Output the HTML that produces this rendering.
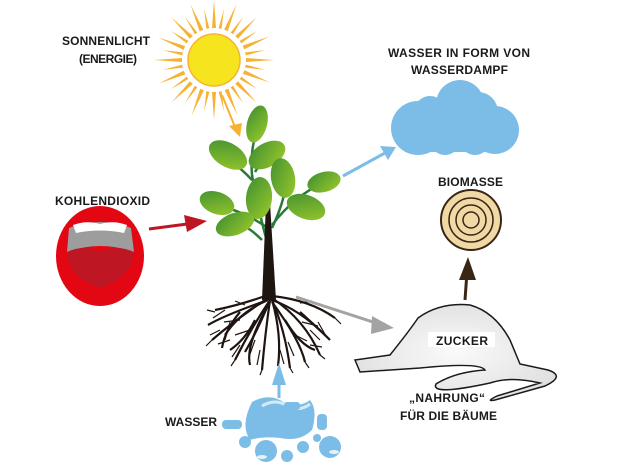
<!DOCTYPE html>
<html><head><meta charset="utf-8"><style>
html,body{margin:0;padding:0;background:#fff;}
svg{display:block}
text{font-family:"Liberation Sans",sans-serif;font-size:12px;fill:#1a1a1a;}
</style></head><body>
<svg width="618" height="470" viewBox="0 0 618 470" xmlns="http://www.w3.org/2000/svg">
<defs>
<linearGradient id="lf" x1="0" y1="0" x2="1" y2="1"><stop offset="0" stop-color="#3f8f32"/><stop offset="1" stop-color="#9cc92a"/></linearGradient>
<radialGradient id="sug" cx="0.5" cy="0.5" r="0.6"><stop offset="0" stop-color="#fafafa"/><stop offset="1" stop-color="#dedede"/></radialGradient>
<polygon id="rl" points="212,28 216,28 214,0" fill="#f7b233"/>
<polygon id="rs" points="212.5,28 215.5,28 214,8" fill="#f7b233"/>
</defs>
<!-- sun rays -->
<g>
<use href="#rl" transform="rotate(0 214 60)"/><use href="#rs" transform="rotate(11 214 60)"/>
<use href="#rl" transform="rotate(22 214 60)"/><use href="#rs" transform="rotate(34 214 60)"/>
<use href="#rl" transform="rotate(45 214 60)"/><use href="#rs" transform="rotate(56 214 60)"/>
<use href="#rl" transform="rotate(67 214 60)"/><use href="#rs" transform="rotate(79 214 60)"/>
<use href="#rl" transform="rotate(90 214 60)"/><use href="#rs" transform="rotate(101 214 60)"/>
<use href="#rl" transform="rotate(112 214 60)"/><use href="#rs" transform="rotate(124 214 60)"/>
<use href="#rl" transform="rotate(135 214 60)"/><use href="#rs" transform="rotate(146 214 60)"/>
<use href="#rl" transform="rotate(157 214 60)"/><use href="#rs" transform="rotate(169 214 60)"/>
<use href="#rl" transform="rotate(180 214 60)"/><use href="#rs" transform="rotate(191 214 60)"/>
<use href="#rl" transform="rotate(202 214 60)"/><use href="#rs" transform="rotate(214 214 60)"/>
<use href="#rl" transform="rotate(225 214 60)"/><use href="#rs" transform="rotate(236 214 60)"/>
<use href="#rl" transform="rotate(247 214 60)"/><use href="#rs" transform="rotate(259 214 60)"/>
<use href="#rl" transform="rotate(270 214 60)"/><use href="#rs" transform="rotate(281 214 60)"/>
<use href="#rl" transform="rotate(292 214 60)"/><use href="#rs" transform="rotate(304 214 60)"/>
<use href="#rl" transform="rotate(315 214 60)"/><use href="#rs" transform="rotate(326 214 60)"/>
<use href="#rl" transform="rotate(337 214 60)"/><use href="#rs" transform="rotate(349 214 60)"/>
</g>
<circle cx="214" cy="60" r="26" fill="#f6e51e" stroke="#f7b233" stroke-width="1.5"/>
<!-- sun arrow -->
<line x1="222" y1="95" x2="235" y2="127" stroke="#f7b233" stroke-width="2"/>
<polygon points="229,126 240,137 242,123" fill="#f7b233"/>
<text x="62" y="45" textLength="88" font-weight="bold">SONNENLICHT</text>
<text x="79" y="63" textLength="58" font-weight="bold">(ENERGIE)</text>

<!-- cloud -->
<g fill="#7cbde8">
<circle cx="460" cy="104" r="24"/>
<circle cx="430" cy="112" r="16"/>
<circle cx="418" cy="128" r="27"/>
<circle cx="495" cy="130" r="24"/>
<circle cx="478" cy="112" r="20"/>
<rect x="418" y="120" width="80" height="32"/>
<circle cx="445" cy="140" r="15"/>
<circle cx="475" cy="140" r="15"/>
</g>
<text x="388" y="57" textLength="142" font-weight="bold">WASSER IN FORM VON</text>
<text x="411" y="74" textLength="97" font-weight="bold">WASSERDAMPF</text>
<line x1="343" y1="176" x2="385" y2="153" stroke="#7cbde8" stroke-width="3"/>
<polygon points="380,146 396,147 388,160" fill="#7cbde8"/>

<!-- mouth -->
<ellipse cx="100" cy="256" rx="44" ry="50" fill="#e30613"/>
<path d="M69,228 Q100,216 131,228 L134,252 Q100,240 67,252 Z" fill="#9d9d9d"/>
<path d="M73,225 Q86,220 100,224 Q114,220 127,225 L124,233 Q100,228 76,233 Z" fill="#fff"/>
<path d="M67,252 Q84,244 100,252 Q116,244 134,252 Q132,278 100,288 Q68,278 67,252 Z" fill="#be1622"/>
<text x="55" y="205" textLength="95" font-weight="bold">KOHLENDIOXID</text>
<line x1="149" y1="229" x2="195" y2="223" stroke="#be1622" stroke-width="3"/>
<polygon points="184,215 207,221 187,232" fill="#be1622"/>

<!-- plant stems -->
<g stroke="#2a7a3a" stroke-width="2.5" fill="none">
<path d="M268,245 Q258,210 252,175 Q250,150 257,130"/>
<path d="M252,180 Q238,165 225,158"/>
<path d="M255,172 Q262,160 272,152"/>
<path d="M268,228 Q242,210 215,205"/>
<path d="M262,240 Q250,228 240,224"/>
<path d="M272,228 Q285,200 285,185"/>
<path d="M272,225 Q295,195 325,182"/>
</g>
<polygon points="266,203 270,203 276,300 262,300" fill="#1f1510"/>
<g fill="url(#lf)">
<ellipse cx="257" cy="124" rx="10" ry="19" transform="rotate(15 257 124)"/>
<ellipse cx="228" cy="155" rx="21" ry="12" transform="rotate(30 228 155)"/>
<ellipse cx="267" cy="155" rx="20" ry="12" transform="rotate(-30 267 155)"/>
<ellipse cx="283" cy="178" rx="12" ry="20" transform="rotate(-10 283 178)"/>
<ellipse cx="259" cy="198" rx="13" ry="21" transform="rotate(5 259 198)"/>
<ellipse cx="217" cy="203" rx="18" ry="11" transform="rotate(20 217 203)"/>
<ellipse cx="235" cy="224" rx="20" ry="11" transform="rotate(-20 235 224)"/>
<ellipse cx="324" cy="182" rx="17" ry="10" transform="rotate(-15 324 182)"/>
<ellipse cx="306" cy="207" rx="20" ry="12" transform="rotate(20 306 207)"/>
</g>

<!-- roots -->
<g stroke="#1f1510" stroke-width="2.2" fill="none">
<path d="M268,295 Q240,305 215,310"/><path d="M268,298 Q235,320 212,340"/>
<path d="M270,300 Q250,330 235,360"/><path d="M270,300 Q265,335 262,370"/>
<path d="M272,300 Q285,330 290,368"/><path d="M272,298 Q305,320 320,355"/>
<path d="M272,296 Q310,300 335,318"/><path d="M268,300 Q225,315 208,325"/>
<path d="M270,302 Q245,345 250,365"/><path d="M272,302 Q300,340 305,362"/>
<path d="M240,312 Q225,330 222,348"/><path d="M300,312 Q320,330 330,340"/>
<path d="M255,320 Q245,340 230,350"/><path d="M285,320 Q300,345 315,350"/>
<path d="M268,300 Q240,312 225,335"/><path d="M272,300 Q300,310 325,335"/>
<path d="M270,300 Q258,330 245,352"/><path d="M272,300 Q282,335 278,366"/>
</g>
<g stroke="#1f1510" stroke-width="1.2" fill="none">
<path d="M225,310 l-12,8 M220,330 l-10,5 M240,345 l-8,12 M280,350 l4,14 M310,330 l10,10 M250,330 l-15,5 M295,335 l12,6 M260,350 l-3,15 M230,322 l-5,18 M318,322 l8,14"/>
<path d="M215,312 l-8,-2 M212,340 l-6,6 M235,360 l-4,6 M262,370 l-2,5 M290,368 l3,5 M320,355 l5,4 M335,318 l6,6 M305,362 l4,6 M245,305 l-10,-4 M300,303 l12,-2 M230,340 l-12,4 M310,345 l12,2 M255,340 l-5,14 M288,342 l6,14 M240,320 l-16,2 M302,322 l16,4"/>
</g>

<!-- gray arrow -->
<line x1="296" y1="297" x2="382" y2="325" stroke="#a3a3a3" stroke-width="3"/>
<polygon points="372,316 394,328 371,334" fill="#a3a3a3"/>

<!-- sugar -->
<path d="M355,360 L390,355 Q410,330 418,318 Q440,302 470,305 Q495,312 510,340 L520,364 L548,370 Q566,376 545,386 L495,400 Q485,402 497,396 L540,383 Q510,376 490,383 Q430,396 436,384 Q455,372 485,370 Q480,362 420,368 L360,372 Z" fill="url(#sug)" stroke="#1a1a1a" stroke-width="1.5"/>
<rect x="428" y="332" width="67" height="15" fill="#fff"/>
<text x="436" y="345" textLength="52" font-weight="bold">ZUCKER</text>
<text x="409" y="402" textLength="76" font-weight="bold">„NAHRUNG“</text>
<text x="400" y="420" textLength="97" font-weight="bold">FÜR DIE BÄUME</text>

<!-- biomasse -->
<text x="438" y="186" textLength="65" font-weight="bold">BIOMASSE</text>
<circle cx="471" cy="220" r="30" fill="#f1d9a6" stroke="#3a2614" stroke-width="2"/>
<circle cx="471" cy="220" r="22" fill="none" stroke="#3a2614" stroke-width="1.5"/>
<circle cx="471" cy="220" r="15" fill="none" stroke="#3a2614" stroke-width="1.5"/>
<circle cx="471" cy="220" r="8" fill="none" stroke="#3a2614" stroke-width="1.5"/>
<line x1="465" y1="300" x2="467" y2="272" stroke="#3a2614" stroke-width="3"/>
<polygon points="459,280 468,257 476,280" fill="#3a2614"/>

<!-- water -->
<text x="165" y="426" textLength="52" font-weight="bold">WASSER</text>
<line x1="279" y1="398" x2="279" y2="375" stroke="#7cbde8" stroke-width="3"/>
<polygon points="272,385 279,363 286,385" fill="#7cbde8"/>
<path d="M252,402 Q270,392 285,403 Q300,408 310,400 Q318,410 312,430 Q300,442 280,438 Q262,436 250,440 Q240,425 252,402 Z" fill="#7cbde8"/>
<path d="M262,406 Q275,398 288,406 Q300,412 310,404" stroke="#d6e9f5" stroke-width="3" fill="none"/>
<rect x="284" y="402" width="16" height="8" rx="3" fill="#7cbde8"/>
<rect x="222" y="420" width="20" height="9" rx="4" fill="#7cbde8"/>
<g fill="#7cbde8">
<circle cx="245" cy="442" r="6"/><circle cx="266" cy="451" r="11"/><circle cx="287" cy="456" r="6"/>
<circle cx="303" cy="447" r="6"/><circle cx="330" cy="447" r="11"/><circle cx="317" cy="438" r="4"/>
<rect x="317" y="414" width="10" height="16" rx="4"/>
</g>
<g fill="#e6f2fa">
<ellipse cx="262" cy="457" rx="5" ry="2"/><ellipse cx="334" cy="452" rx="5" ry="2"/>
</g>
</svg>
</body></html>
